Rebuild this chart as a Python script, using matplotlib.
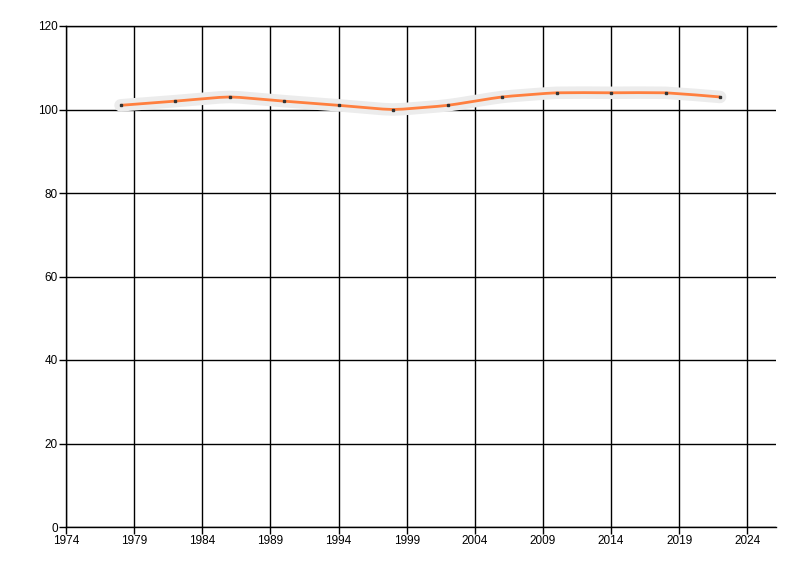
import matplotlib
matplotlib.use("Agg")
import matplotlib.pyplot as plt
import numpy as np
from matplotlib.path import Path
from matplotlib.patches import PathPatch

years = [1978, 1982, 1986, 1990, 1994, 1998, 2002, 2006, 2010, 2014, 2018, 2022]
values = [101, 102, 103, 102, 101, 100, 101, 103, 104, 104, 104, 103]
x_ticks = [1974, 1979, 1984, 1989, 1994, 1999, 2004, 2009, 2014, 2019, 2024]
y_ticks = [0, 20, 40, 60, 80, 100, 120]

plt.rcParams['font.family'] = ['Liberation Sans', 'DejaVu Sans']

fig = plt.figure(figsize=(8, 5.76), dpi=100)
ax = fig.add_axes([66/800, 49/576, 710/800, 501/576])


def smooth_path(xs, ys, t=0.5):
    xs = np.asarray(xs, float)
    ys = np.asarray(ys, float)
    verts = [(xs[0], ys[0])]
    codes = [Path.MOVETO]
    n = len(xs)
    for i in range(n - 1):
        p0 = np.array([xs[max(i - 1, 0)], ys[max(i - 1, 0)]])
        p1 = np.array([xs[i], ys[i]])
        p2 = np.array([xs[i + 1], ys[i + 1]])
        p3 = np.array([xs[min(i + 2, n - 1)], ys[min(i + 2, n - 1)]])
        c1 = p1 + (p2 - p0) * t / 6 * 2 / 2
        c2 = p2 - (p3 - p1) * t / 6 * 2 / 2
        verts += [tuple(c1), tuple(c2), tuple(p2)]
        codes += [Path.CURVE4] * 3
    return Path(verts, codes)


path = smooth_path(years, values)
ax.add_patch(PathPatch(path, facecolor='none', edgecolor='#ececec', lw=9,
                       capstyle='round', joinstyle='round', zorder=3))
ax.add_patch(PathPatch(path, facecolor='none', edgecolor='#ff7f3f', lw=2,
                       zorder=4))
ax.plot(years, values, linestyle='none', marker='s', markersize=2,
        color='#333333', zorder=5)

ax.set_xlim(1974, 2026.1)
ax.set_ylim(0, 120)
ax.set_xticks(x_ticks)
ax.set_yticks(y_ticks)
ax.grid(True, color='black', lw=1)
ax.set_axisbelow(True)
for s in ['right']:
    ax.spines[s].set_visible(False)
for s in ['left', 'bottom', 'top']:
    ax.spines[s].set_color('black')
    ax.spines[s].set_linewidth(1)
ax.tick_params(direction='out', length=5, width=1, color='black',
               labelsize=8.5, labelcolor='black', pad=1)

fig.savefig('out.png', dpi=100)
